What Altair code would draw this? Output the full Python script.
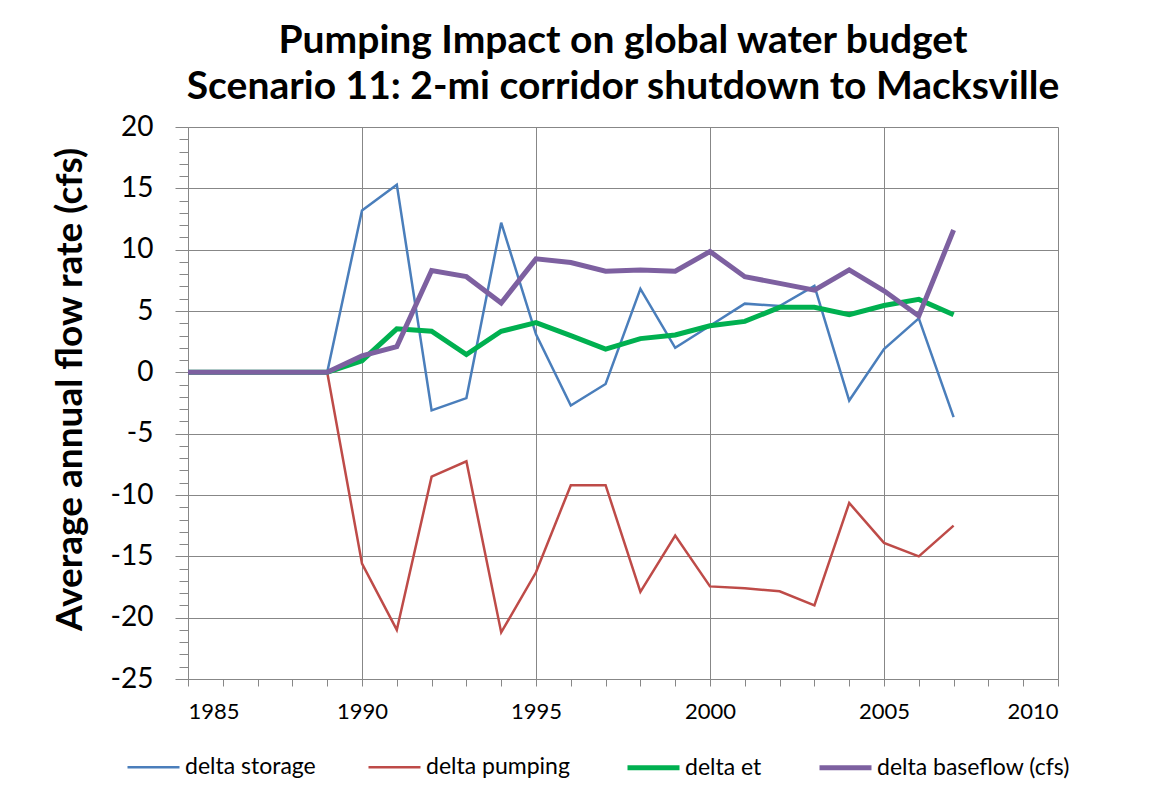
import altair as alt
import pandas as pd

years = list(range(1985, 2008))
delta_storage = [0, 0, 0, 0, 0, 13.2, 15.3, -3.1, -2.1, 12.2, 3.1, -2.7, -0.95, 6.8, 2.0,
                 3.8, 5.6, 5.4, 7.05, -2.3, 1.9, 4.4, -3.65]
delta_pumping = [0, 0, 0, 0, 0, -15.6, -21.0, -8.5, -7.25, -21.2, -16.3, -9.2, -9.2, -17.9, -13.3,
                 -17.45, -17.6, -17.85, -19.0, -10.65, -13.9, -15.0, -12.5]
delta_et = [0, 0, 0, 0, 0, 0.95, 3.55, 3.35, 1.45, 3.35, 4.05, 3.0, 1.9, 2.75, 3.05,
            3.8, 4.15, 5.3, 5.3, 4.7, 5.45, 5.95, 4.7]
delta_baseflow = [0, 0, 0, 0, 0, 1.35, 2.1, 8.3, 7.8, 5.65, 9.25, 8.95, 8.25, 8.35, 8.25,
                  9.85, 7.8, 7.25, 6.7, 8.35, 6.65, 4.6, 11.6]

names = ["delta storage", "delta pumping", "delta et", "delta baseflow (cfs)"]
colors = ["#4A7EBB", "#BE4B48", "#00B050", "#7D60A0"]
widths = [2.5, 2.5, 5, 5]
x_ticks = list(range(1985, 2011))
y_ticks = list(range(-25, 21))

rows = []
for name, vals in zip(names, [delta_storage, delta_pumping, delta_et, delta_baseflow]):
    for yr, v in zip(years, vals):
        rows.append({"year": yr, "value": v, "series": name})
df = pd.DataFrame(rows)

GRID = "#878787"
major = "datum.value % 5 === 0"

xaxis = alt.Axis(
    values=x_ticks,
    labelExpr=f"{major} ? ('' + datum.value) : ''",
    grid=True, gridColor=GRID, gridWidth=1,
    gridOpacity={"condition": {"test": major, "value": 1}, "value": 0},
    domainColor=GRID, tickColor=GRID, tickSize=7,
    labelFont="Lato", labelFontSize=22, labelColor="black", labelPadding=15,
    title=None,
)
yaxis = alt.Axis(
    values=y_ticks,
    labelExpr=f"{major} ? ('' + datum.value) : ''",
    grid=True, gridColor=GRID, gridWidth=1,
    gridOpacity={"condition": {"test": major, "value": 1}, "value": 0},
    domainColor=GRID, tickColor=GRID,
    tickSize={"condition": {"test": major, "value": 13}, "value": 9},
    labelFont="Lato", labelFontSize=28, labelColor="black", labelPadding=22,
    title="Average annual flow rate (cfs)",
    titleFont="Lato", titleFontSize=37, titleFontWeight="bold", titleColor="black",
    titleX=-118, titleY=262, titleAlign="center", titleBaseline="middle", titleAngle=270,
)

leg = alt.Legend(
    title=None, orient="none", direction="horizontal", columns=4,
    legendX=-63, legendY=612, padding=0,
    symbolType="stroke", symbolSize=2704, labelOffset=3, labelLimit=400,
    labelFont="Lato", labelFontSize=23, labelColor="black",
    columnPadding=47,
)

base = alt.Chart(df).mark_line().encode(
    x=alt.X("year:Q", scale=alt.Scale(domain=[1985, 2010], nice=False, zero=False), axis=xaxis),
    y=alt.Y("value:Q", scale=alt.Scale(domain=[-25, 20], nice=False), axis=yaxis),
    color=alt.Color("series:N", scale=alt.Scale(domain=names, range=colors), sort=names, legend=leg),
    strokeWidth=alt.StrokeWidth("series:N", scale=alt.Scale(type="ordinal", domain=names, range=widths),
                                sort=names, legend=leg),
)

layers = [base.transform_filter(alt.datum.series == n) for n in names]

chart = alt.layer(*layers).properties(
    width=870, height=552,
    autosize=alt.AutoSizeParams(type="none"),
    padding={"left": 180, "top": 119, "right": 75, "bottom": 100},
    title=alt.Title(
        ["Pumping Impact on global water budget", "Scenario 11: 2-mi corridor shutdown to Macksville"],
        font="Lato", fontSize=39, fontWeight="bold", color="black",
        anchor="middle", frame="group", lineHeight=46, offset=6,
    ),
).configure_view(stroke=None).configure(background="white")

chart.save("out.html", embed_options={"renderer": "svg", "actions": False})
